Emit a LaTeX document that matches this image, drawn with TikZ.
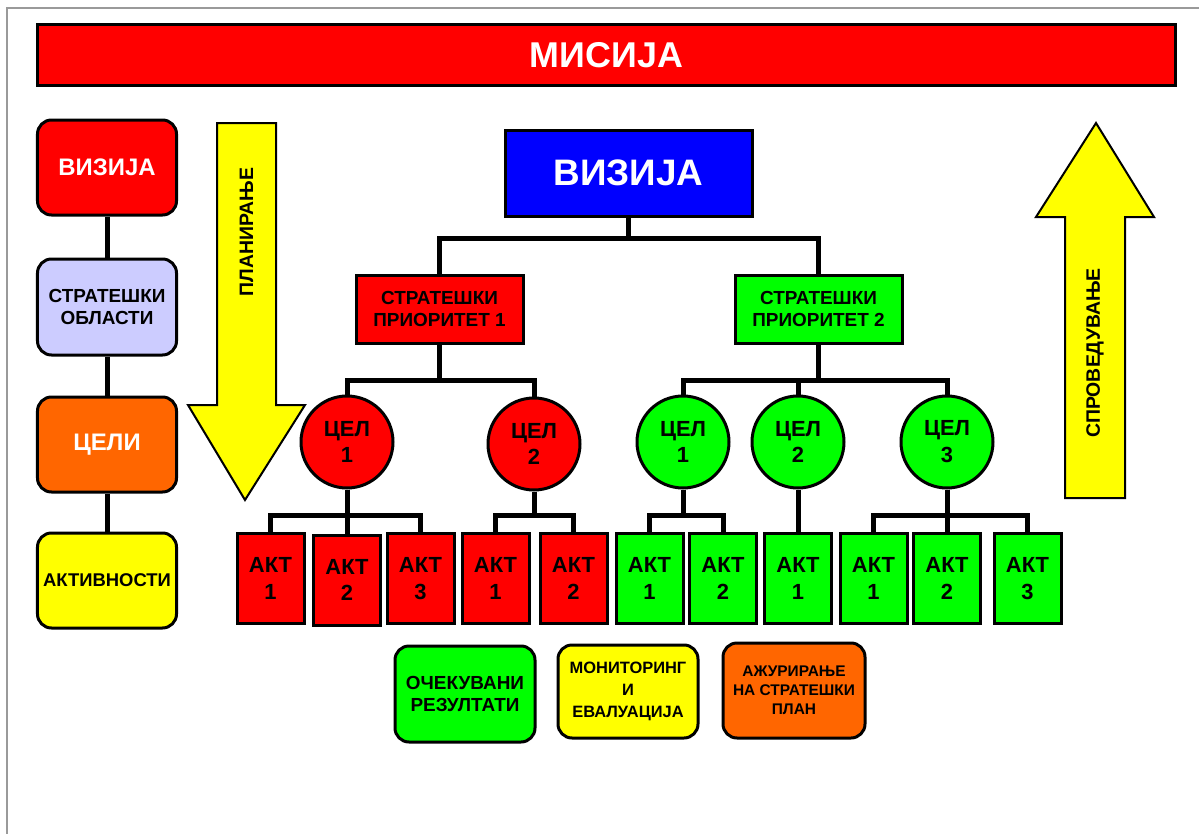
\documentclass[tikz,border=0pt]{standalone}
\usepackage{fontspec}
\setmainfont{Liberation Sans}
\usetikzlibrary{calc}
\definecolor{cred}{HTML}{FF0000}
\definecolor{cblue}{HTML}{0000FF}
\definecolor{cgreen}{HTML}{00FF00}
\definecolor{cyel}{HTML}{FFFF00}
\definecolor{corange}{HTML}{FF6600}
\definecolor{clav}{HTML}{CCCCFF}
\definecolor{cframe}{HTML}{9A9A9A}
\tikzset{
  conn/.style={line width=5bp, black, line join=miter},
  boxbase/.style={draw=black, line width=3bp, inner sep=0pt, align=center},
  lbox/.style={boxbase, rounded corners=14bp, minimum width=139bp, minimum height=95bp},
  bbox/.style={boxbase, rounded corners=14bp},
  spbox/.style={boxbase, minimum width=167bp, minimum height=68bp, font=\bfseries\fontsize{19}{23}\selectfont},
  celnode/.style={boxbase, circle, minimum size=92bp, font=\bfseries\fontsize{22}{27}\selectfont},
  aktbox/.style={boxbase, minimum width=67bp, minimum height=90bp, font=\bfseries\fontsize{22}{27}\selectfont},
  bigarrow/.style={draw=black, line width=2bp, fill=cyel, line join=miter},
  arrowtext/.style={rotate=90, font=\bfseries\fontsize{19.5}{22}\selectfont}
}
\begin{document}
\begin{tikzpicture}[x=1bp,y=-1bp]
\useasboundingbox (0,0) rectangle (1199,834);
\fill[white] (0,0) rectangle (1199,834);
\draw[cframe, line width=1.5bp] (7,834) -- (7,8) -- (1199,8);

% title bar
\node[boxbase, fill=cred, minimum width=1137bp, minimum height=60bp, text=white,
      font=\bfseries\fontsize{36}{40}\selectfont] (mis) at (606.5,55) {МИСИЈА};

% left column
\node[lbox, fill=cred, text=white, font=\bfseries\fontsize{24}{28}\selectfont] (lviz) at (107,167.5) {ВИЗИЈА};
\node[lbox, fill=clav, minimum height=96bp, font=\bfseries\fontsize{19}{23}\selectfont] (lobl) at (107,307) {СТРАТЕШКИ\\ОБЛАСТИ};
\node[lbox, fill=corange, text=white, font=\bfseries\fontsize{24}{28}\selectfont] (lcel) at (107,444.5) {ЦЕЛИ};
\node[lbox, fill=cyel, font=\bfseries\fontsize{18.5}{23}\selectfont] (lakt) at (107,580.5) {АКТИВНОСТИ};
\draw[conn] (lviz) -- (lobl);
\draw[conn] (lobl) -- (lcel);
\draw[conn] (lcel) -- (lakt);

% planning arrow
\draw[bigarrow] (217,123) -- (276,123) -- (276,405) -- (305,405) -- (245,500) -- (188,405) -- (217,405) -- cycle;
\node[arrowtext] (plan) at (246.5,232) {ПЛАНИРАЊЕ};

% implementation arrow
\draw[bigarrow] (1065,498) -- (1125,498) -- (1125,217) -- (1154,217) -- (1096,123) -- (1036,217) -- (1065,217) -- cycle;
\node[arrowtext] (spro) at (1095,353) {СПРОВЕДУВАЊЕ};

% vision
\node[boxbase, fill=cblue, text=white, minimum width=247bp, minimum height=86bp,
      font=\bfseries\fontsize{37}{40}\selectfont] (viz) at (628.5,173) {ВИЗИЈА};

% priorities
\node[spbox, fill=cred] (sp1) at (439.5,309) {СТРАТЕШКИ\\ПРИОРИТЕТ 1};
\node[spbox, fill=cgreen] (sp2) at (818.5,309) {СТРАТЕШКИ\\ПРИОРИТЕТ 2};

% goals
\node[celnode, fill=cred] (r1) at (347,442) {ЦЕЛ\\1};
\node[celnode, fill=cred] (r2) at (534,444) {ЦЕЛ\\2};
\node[celnode, fill=cgreen] (g1) at (683,442) {ЦЕЛ\\1};
\node[celnode, fill=cgreen] (g2) at (798,442) {ЦЕЛ\\2};
\node[celnode, fill=cgreen] (g3) at (947,442) {ЦЕЛ\\3};

% activities
\node[aktbox, fill=cred] (r1a1) at (270.5,578.5) {АКТ\\1};
\node[aktbox, fill=cred] (r1a2) at (347,580) {АКТ\\2};
\node[aktbox, fill=cred] (r1a3) at (420.5,578.5) {АКТ\\3};
\node[aktbox, fill=cred] (r2a1) at (495.5,578.5) {АКТ\\1};
\node[aktbox, fill=cred] (r2a2) at (573.5,578.5) {АКТ\\2};
\node[aktbox, fill=cgreen] (g1a1) at (649.5,578.5) {АКТ\\1};
\node[aktbox, fill=cgreen] (g1a2) at (723,578.5) {АКТ\\2};
\node[aktbox, fill=cgreen] (g2a1) at (798,578.5) {АКТ\\1};
\node[aktbox, fill=cgreen] (g3a1) at (873.5,578.5) {АКТ\\1};
\node[aktbox, fill=cgreen] (g3a2) at (947,578.5) {АКТ\\2};
\node[aktbox, fill=cgreen] (g3a3) at (1027.5,578.5) {АКТ\\3};

% bottom boxes
\node[bbox, fill=cgreen, minimum width=140bp, minimum height=96bp,
      font=\bfseries\fontsize{19}{23}\selectfont] (res) at (465,694) {ОЧЕКУВАНИ\\РЕЗУЛТАТИ};
\node[bbox, fill=cyel, minimum width=140bp, minimum height=93bp,
      font=\bfseries\fontsize{16.5}{22}\selectfont] (mon) at (628,691.5) {МОНИТОРИНГ\\И\\ЕВАЛУАЦИЈА};
\node[bbox, fill=corange, minimum width=142bp, minimum height=95bp,
      font=\bfseries\fontsize{15.5}{19}\selectfont] (azu) at (794,690.5) {АЖУРИРАЊЕ\\НА СТРАТЕШКИ\\ПЛАН};

% tree connectors
\foreach \c in {sp1,sp2}
  \draw[conn] (viz.south) -- (viz.south |- 0,238) -| (\c.north);
\foreach \c in {r1,r2}
  \draw[conn] (sp1.south) -- (sp1.south |- 0,380) -| (\c.north);
\foreach \c in {g1,g2,g3}
  \draw[conn] (sp2.south) -- (sp2.south |- 0,380) -| (\c.north);
\foreach \c in {r1a1,r1a2,r1a3}
  \draw[conn] (r1.south) -- (r1.south |- 0,515) -| (\c.north);
\foreach \c in {r2a1,r2a2}
  \draw[conn] (r2.south) -- (r2.south |- 0,515) -| (\c.north);
\foreach \c in {g1a1,g1a2}
  \draw[conn] (g1.south) -- (g1.south |- 0,515) -| (\c.north);
\draw[conn] (g2.south) -- (g2a1.north);
\foreach \c in {g3a1,g3a2,g3a3}
  \draw[conn] (g3.south) -- (g3.south |- 0,515) -| (\c.north);
\end{tikzpicture}
\end{document}
